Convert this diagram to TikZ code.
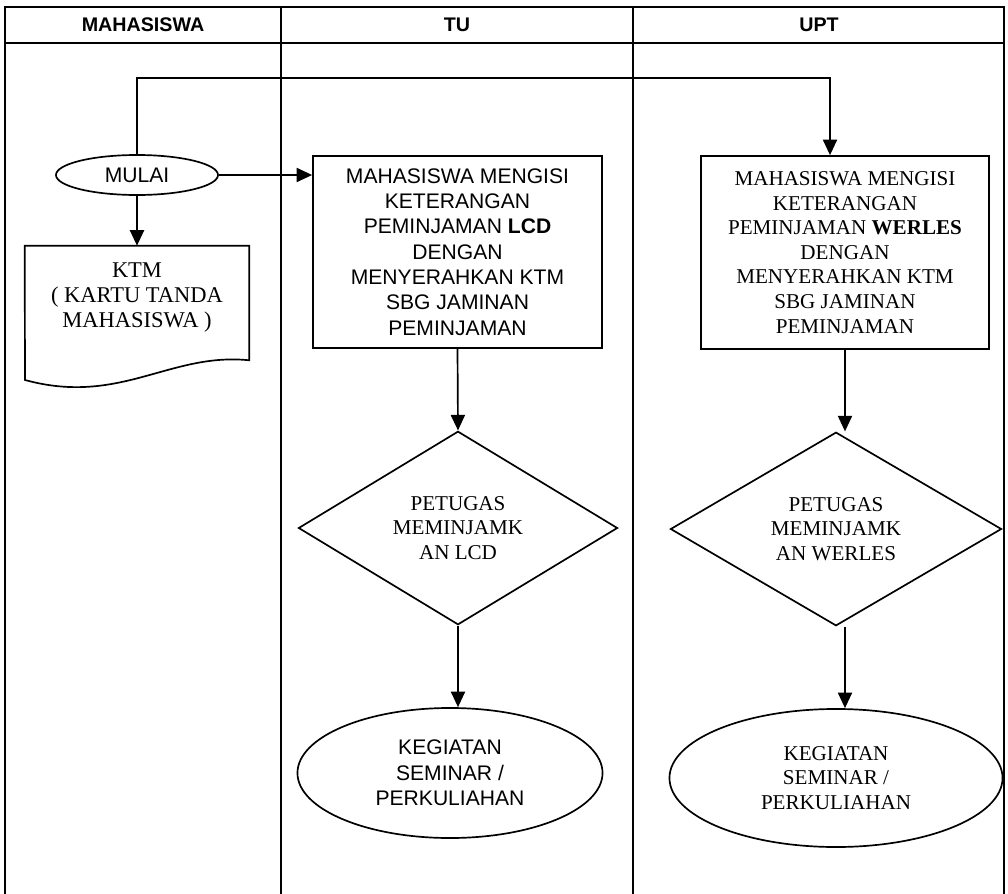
\documentclass[tikz,border=0pt]{standalone}
\usepackage{fontspec}
\setmainfont{Liberation Serif}
\setsansfont{Liberation Sans}
\usetikzlibrary{shapes.geometric,arrows.meta}

\tikzset{
  garis/.style={line width=1.2pt},
  alur/.style={line width=1.2pt, -{Triangle[length=11pt,width=10pt]}},
  kepala/.style={font=\sffamily\bfseries\fontsize{14}{16}\selectfont},
  teks/.style={align=center, font=\sffamily\fontsize{15}{18}\selectfont},
  teksserif/.style={align=center, font=\rmfamily\fontsize{15}{17.5}\selectfont},
  proses/.style={draw, line width=1.2pt, rectangle, inner sep=0pt},
  terminal/.style={draw, line width=1.2pt, ellipse, inner sep=0pt},
  keputusan/.style={draw, line width=1.2pt, diamond, inner sep=0pt}
}

\begin{document}
\begin{tikzpicture}[x=0.025cm, y=-0.025cm]

% Fix the page size
\useasboundingbox (0,0) rectangle (1008,894);

% Draw the lanes
\draw[garis] (5,894) -- (5,7) -- (1004,7) -- (1004,894);
\draw[garis] (5,43) -- (1004,43);
\draw[garis] (281,7) -- (281,894);
\draw[garis] (633,7) -- (633,894);

% Lane titles
\node[kepala] (hmhs) at (143,25) {MAHASISWA};
\node[kepala] (htu) at (457,25) {TU};
\node[kepala] (hupt) at (819,25) {UPT};

% Start and card
\node[terminal, teks, minimum width=4.05cm, minimum height=1cm] (mulai) at (137,175) {MULAI};
\node[teksserif, font=\rmfamily\fontsize{16}{17.7}\selectfont, minimum width=5.6cm, minimum height=2.85cm] (ktm) at (137,303)
  {KTM\\( KARTU TANDA\\MAHASISWA )\\[-6.5pt]\mbox{}};
\draw[garis] (ktm.north west) -- (ktm.north east) -- (ktm.south east)
  .. controls (170,352) and (120,406) .. (25,380) -- cycle;

% TU lane
\node[proses, teks, minimum width=7.225cm, minimum height=4.8cm] (lcd) at (457.5,252)
  {MAHASISWA MENGISI\\KETERANGAN\\PEMINJAMAN \textbf{LCD}\\DENGAN\\MENYERAHKAN KTM\\SBG JAMINAN\\PEMINJAMAN};
\node[keputusan, teksserif, minimum width=7.975cm, minimum height=4.175cm] (dlcd) at (458,528)
  {PETUGAS\\MEMINJAMK\\AN LCD};
\node[terminal, teks, minimum width=7.625cm, minimum height=3.25cm] (elcd) at (450,773)
  {KEGIATAN\\SEMINAR /\\PERKULIAHAN};

% UPT lane
\node[proses, teksserif, minimum width=7.2cm, minimum height=4.825cm] (wer) at (845,252.5)
  {MAHASISWA MENGISI\\KETERANGAN\\PEMINJAMAN \textbf{WERLES}\\DENGAN\\MENYERAHKAN KTM\\SBG JAMINAN\\PEMINJAMAN};
\node[keputusan, teksserif, minimum width=8.275cm, minimum height=4.2cm] (dwer) at (836,529)
  {PETUGAS\\MEMINJAMK\\AN WERLES};
\node[terminal, teksserif, minimum width=8.325cm, minimum height=3.45cm] (ewer) at (836,778)
  {KEGIATAN\\SEMINAR /\\PERKULIAHAN};

% Connectors
\coordinate (atas) at (830,78);
\draw[alur] (mulai.north) |- (atas) -- (atas |- wer.north);
\draw[alur] (mulai.east) -- (lcd.west |- mulai.east);
\draw[alur] (mulai.south) -- (ktm.north);
\draw[alur] (lcd.south) -- (dlcd.north);
\draw[alur] (dlcd.south) -- (dlcd.south |- elcd.north);
\draw[alur] (wer.south) -- (wer.south |- dwer.north);
\draw[alur] (wer.south |- dwer.south) -- (wer.south |- ewer.north);

\end{tikzpicture}
\end{document}
